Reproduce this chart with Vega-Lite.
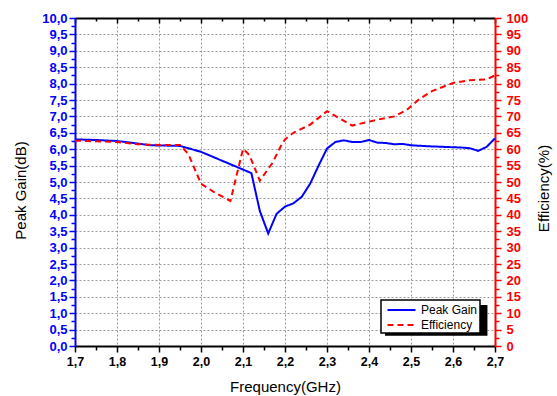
{
  "$schema": "https://vega.github.io/schema/vega-lite/v6.json",
  "autosize": {"type": "none"},
  "width": 420,
  "height": 328,
  "padding": {"left": 75, "top": 18, "right": 62, "bottom": 50},
  "background": "white",
  "config": {
    "view": {"stroke": null},
    "font": "Liberation Sans",
    "axis": {
      "labelFont": "Liberation Sans",
      "labelFontWeight": "bold",
      "labelFontSize": 13,
      "titleFont": "Liberation Sans",
      "titleFontWeight": "normal",
      "titleFontSize": 15,
      "titleColor": "black",
      "labelOverlap": false,
      "labelBound": false,
      "labelFlush": false,
      "domainWidth": 2,
      "tickWidth": 1.5,
      "gridDash": [2, 2],
      "gridColor": "#9a9a9a",
      "gridWidth": 1
    },
    "legend": {
      "orient": "none",
      "legendX": 306,
      "legendY": 282,
      "fillColor": "white",
      "strokeColor": "black",
      "strokeWidth": 1.5,
      "padding": 2,
      "symbolType": "M-0.5,0H3.5",
      "symbolSize": 196,
      "symbolStrokeWidth": 2,
      "labelFont": "Liberation Sans",
      "labelFontSize": 12,
      "labelColor": "black",
      "labelOffset": 22,
      "labelExpr": "datum.label + '\u00a0\u00a0'",
      "rowPadding": 1
    }
  },
  "datasets": {
    "gain": [
      {"f": 1.70, "v": 6.30, "series": "Peak Gain"},
      {"f": 1.75, "v": 6.28, "series": "Peak Gain"},
      {"f": 1.80, "v": 6.25, "series": "Peak Gain"},
      {"f": 1.85, "v": 6.17, "series": "Peak Gain"},
      {"f": 1.88, "v": 6.12, "series": "Peak Gain"},
      {"f": 1.95, "v": 6.10, "series": "Peak Gain"},
      {"f": 2.00, "v": 5.92, "series": "Peak Gain"},
      {"f": 2.05, "v": 5.65, "series": "Peak Gain"},
      {"f": 2.10, "v": 5.38, "series": "Peak Gain"},
      {"f": 2.12, "v": 5.27, "series": "Peak Gain"},
      {"f": 2.14, "v": 4.12, "series": "Peak Gain"},
      {"f": 2.16, "v": 3.43, "series": "Peak Gain"},
      {"f": 2.18, "v": 4.03, "series": "Peak Gain"},
      {"f": 2.20, "v": 4.25, "series": "Peak Gain"},
      {"f": 2.22, "v": 4.35, "series": "Peak Gain"},
      {"f": 2.24, "v": 4.55, "series": "Peak Gain"},
      {"f": 2.26, "v": 4.95, "series": "Peak Gain"},
      {"f": 2.28, "v": 5.50, "series": "Peak Gain"},
      {"f": 2.30, "v": 6.02, "series": "Peak Gain"},
      {"f": 2.32, "v": 6.22, "series": "Peak Gain"},
      {"f": 2.34, "v": 6.27, "series": "Peak Gain"},
      {"f": 2.36, "v": 6.22, "series": "Peak Gain"},
      {"f": 2.38, "v": 6.22, "series": "Peak Gain"},
      {"f": 2.40, "v": 6.28, "series": "Peak Gain"},
      {"f": 2.42, "v": 6.20, "series": "Peak Gain"},
      {"f": 2.44, "v": 6.19, "series": "Peak Gain"},
      {"f": 2.46, "v": 6.15, "series": "Peak Gain"},
      {"f": 2.48, "v": 6.16, "series": "Peak Gain"},
      {"f": 2.50, "v": 6.12, "series": "Peak Gain"},
      {"f": 2.54, "v": 6.09, "series": "Peak Gain"},
      {"f": 2.58, "v": 6.07, "series": "Peak Gain"},
      {"f": 2.62, "v": 6.05, "series": "Peak Gain"},
      {"f": 2.64, "v": 6.03, "series": "Peak Gain"},
      {"f": 2.66, "v": 5.95, "series": "Peak Gain"},
      {"f": 2.68, "v": 6.07, "series": "Peak Gain"},
      {"f": 2.70, "v": 6.33, "series": "Peak Gain"}
    ],
    "efficiency": [
      {"f": 1.70, "v": 62.6, "series": "Efficiency"},
      {"f": 1.75, "v": 62.4, "series": "Efficiency"},
      {"f": 1.80, "v": 62.2, "series": "Efficiency"},
      {"f": 1.85, "v": 61.5, "series": "Efficiency"},
      {"f": 1.90, "v": 61.3, "series": "Efficiency"},
      {"f": 1.95, "v": 61.3, "series": "Efficiency"},
      {"f": 1.97, "v": 58.5, "series": "Efficiency"},
      {"f": 2.00, "v": 49.5, "series": "Efficiency"},
      {"f": 2.03, "v": 47.0, "series": "Efficiency"},
      {"f": 2.07, "v": 44.2, "series": "Efficiency"},
      {"f": 2.10, "v": 60.1, "series": "Efficiency"},
      {"f": 2.115, "v": 58.3, "series": "Efficiency"},
      {"f": 2.14, "v": 50.4, "series": "Efficiency"},
      {"f": 2.17, "v": 55.8, "series": "Efficiency"},
      {"f": 2.19, "v": 60.9, "series": "Efficiency"},
      {"f": 2.20, "v": 63.0, "series": "Efficiency"},
      {"f": 2.22, "v": 65.0, "series": "Efficiency"},
      {"f": 2.26, "v": 67.5, "series": "Efficiency"},
      {"f": 2.30, "v": 71.6, "series": "Efficiency"},
      {"f": 2.36, "v": 67.2, "series": "Efficiency"},
      {"f": 2.42, "v": 69.0, "series": "Efficiency"},
      {"f": 2.46, "v": 70.0, "series": "Efficiency"},
      {"f": 2.49, "v": 72.0, "series": "Efficiency"},
      {"f": 2.52, "v": 75.3, "series": "Efficiency"},
      {"f": 2.55, "v": 77.7, "series": "Efficiency"},
      {"f": 2.60, "v": 80.2, "series": "Efficiency"},
      {"f": 2.64, "v": 81.0, "series": "Efficiency"},
      {"f": 2.68, "v": 81.3, "series": "Efficiency"},
      {"f": 2.70, "v": 82.5, "series": "Efficiency"}
    ]
  },
  "layer": [
    {
      "data": {"name": "gain"},
      "mark": {"type": "line", "strokeWidth": 2},
      "encoding": {
        "x": {
          "field": "f",
          "type": "quantitative",
          "scale": {"domain": [1.7, 2.7], "nice": false, "zero": false},
          "axis": {
            "orient": "bottom",
            "title": "Frequency(GHz)",
            "values": [1.7, 1.75, 1.8, 1.85, 1.9, 1.95, 2.0, 2.05, 2.1, 2.15, 2.2, 2.25, 2.3, 2.35, 2.4, 2.45, 2.5, 2.55, 2.6, 2.65, 2.7],
            "labelExpr": "round(datum.value*20) % 2 == 1 ? '' : replace(format(datum.value, '.1f'), '.', ',')",
            "labelFontSize": 12.5,
            "domainColor": "black",
            "tickColor": "black",
            "labelColor": "black",
            "tickSize": {"condition": {"test": "round(datum.value*20) % 2 == 1", "value": 4}, "value": 6},
            "labelPadding": 3,
            "grid": true,
            "gridOpacity": {"condition": {"test": "round(datum.value*20) % 2 == 1 || datum.value < 1.71 || datum.value > 2.69", "value": 0}, "value": 1},
            "titleX": 210,
            "titleY": 45,
            "titleAlign": "center",
            "titleBaseline": "alphabetic"
          }
        },
        "y": {
          "field": "v",
          "type": "quantitative",
          "scale": {"domain": [0, 10], "nice": false},
          "axis": {
            "orient": "left",
            "title": "Peak Gain(dB)",
            "values": [0, 0.25, 0.5, 0.75, 1, 1.25, 1.5, 1.75, 2, 2.25, 2.5, 2.75, 3, 3.25, 3.5, 3.75, 4, 4.25, 4.5, 4.75, 5, 5.25, 5.5, 5.75, 6, 6.25, 6.5, 6.75, 7, 7.25, 7.5, 7.75, 8, 8.25, 8.5, 8.75, 9, 9.25, 9.5, 9.75, 10],
            "labelExpr": "round(datum.value*4) % 2 == 1 ? '' : replace(format(datum.value, '.1f'), '.', ',')",
            "domainColor": "#0000ff",
            "tickColor": "#0000ff",
            "labelColor": "#0000ff",
            "tickSize": {"condition": {"test": "round(datum.value*4) % 2 == 1", "value": 4}, "value": 6},
            "labelPadding": 2,
            "grid": true,
            "gridOpacity": {"condition": {"test": "round(datum.value*4) % 2 == 1 || datum.value < 0.1 || datum.value > 9.9", "value": 0}, "value": 1},
            "titleX": -55,
            "titleY": 172,
            "titleAngle": 270,
            "titleAlign": "center",
            "titleBaseline": "middle"
          }
        },
        "color": {
          "field": "series",
          "type": "nominal",
          "scale": {"domain": ["Peak Gain", "Efficiency"], "range": ["#0000ff", "#ff0000"]},
          "legend": {"title": null}
        },
        "strokeDash": {
          "field": "series",
          "type": "nominal",
          "scale": {"domain": ["Peak Gain", "Efficiency"], "range": [[1, 0], [6, 4]]},
          "legend": {"title": null}
        }
      }
    },
    {
      "data": {"name": "efficiency"},
      "mark": {"type": "line", "strokeWidth": 2},
      "encoding": {
        "x": {
          "field": "f",
          "type": "quantitative",
          "scale": {"domain": [1.7, 2.7], "nice": false, "zero": false},
          "axis": {
            "orient": "top",
            "title": null,
            "labels": false,
            "values": [1.7, 1.75, 1.8, 1.85, 1.9, 1.95, 2.0, 2.05, 2.1, 2.15, 2.2, 2.25, 2.3, 2.35, 2.4, 2.45, 2.5, 2.55, 2.6, 2.65, 2.7],
            "domainColor": "black",
            "tickColor": "black",
            "tickSize": {"condition": {"test": "round(datum.value*20) % 2 == 1", "value": -3}, "value": -5},
            "grid": false
          }
        },
        "y": {
          "field": "v",
          "type": "quantitative",
          "scale": {"domain": [0, 100], "nice": false},
          "axis": {
            "orient": "right",
            "title": "Efficiency(%)",
            "values": [0, 2.5, 5, 7.5, 10, 12.5, 15, 17.5, 20, 22.5, 25, 27.5, 30, 32.5, 35, 37.5, 40, 42.5, 45, 47.5, 50, 52.5, 55, 57.5, 60, 62.5, 65, 67.5, 70, 72.5, 75, 77.5, 80, 82.5, 85, 87.5, 90, 92.5, 95, 97.5, 100],
            "labelExpr": "round(datum.value*2) % 10 == 5 ? '' : format(datum.value, 'd')",
            "domainColor": "#ff0000",
            "tickColor": "#ff0000",
            "labelColor": "#ff0000",
            "tickSize": {"condition": {"test": "round(datum.value*2) % 10 == 5", "value": 4}, "value": 6},
            "labelPadding": 5,
            "grid": false,
            "titleX": 48,
            "titleY": 170,
            "titleAngle": 270,
            "titleAlign": "center",
            "titleBaseline": "middle"
          }
        },
        "color": {"field": "series", "type": "nominal"},
        "strokeDash": {"field": "series", "type": "nominal"}
      }
    },
    {
      "data": {"values": [{"part": "legend shadow"}]},
      "mark": {"type": "rect", "fill": "black"},
      "encoding": {
        "x": {"datum": 2.438, "type": "quantitative", "scale": {"domain": [1.7, 2.7], "nice": false, "zero": false}, "axis": null},
        "x2": {"datum": 2.682},
        "y": {"datum": 1.25, "type": "quantitative", "scale": {"domain": [0, 10], "nice": false}, "axis": null},
        "y2": {"datum": 0.31}
      }
    }
  ],
  "resolve": {
    "scale": {"y": "independent"},
    "axis": {"x": "independent", "y": "independent"}
  }
}
